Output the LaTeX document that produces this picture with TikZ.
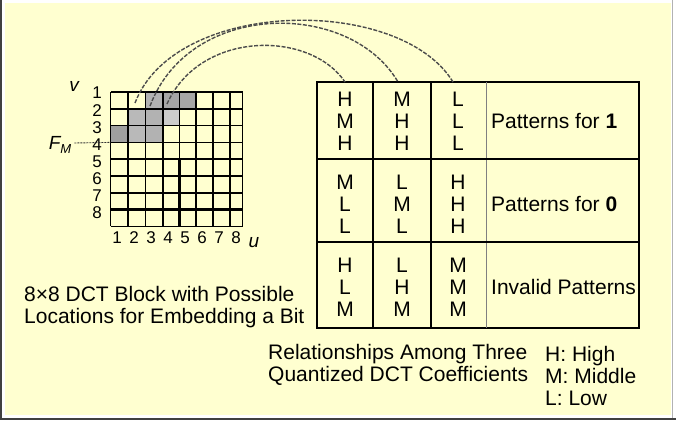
\documentclass[tikz,border=0pt]{standalone}
\usepackage{fontspec}
\setmainfont{Liberation Sans}
\usetikzlibrary{positioning}
\definecolor{paper}{RGB}{255,255,208}
\tikzset{
  txt/.style={font=\fontsize{21}{22}\selectfont, inner sep=0pt},
  pat/.style={txt, align=center},
  num/.style={font=\fontsize{17}{17}\selectfont, inner sep=0pt},
  link/.style={draw=black!70, line width=1.4pt, dash pattern=on 4pt off 1.5pt},
}
\begin{document}
\begin{tikzpicture}[x=1pt,y=-1pt]
            \fill[white] (0,0) rectangle (676,420);
            \useasboundingbox (0,0) rectangle (676,420);
            \fill[paper] (5,3) rectangle (671,415);
            \fill[black!75] (0,0) rectangle (2,420);
            \fill[black!75] (0,418) rectangle (676,420);
            \draw[black!30] (672.5,0) -- (672.5,418);
            % shaded coefficients
            \fill[gray!60] (145.5,92) rectangle (163,142.4);
            \fill[gray!55] (128,108.8) rectangle (145.5,142.4);
            \fill[gray!75] (110.5,125.6) rectangle (128,142.4);
            \fill[gray!70] (163,92) rectangle (196,108.8);
            \fill[gray!40] (163,108.8) rectangle (179.5,125.6);
            % 8x8 block
            \foreach \x in {110.5,128,145.5,163,179.5,196,213,230,242.5}
                \draw[line width=1.5pt] (\x,92) -- (\x,226.4);
            \foreach \y in {92,108.8,125.6,142.4}
                \draw[line width=1.5pt] (110.5,\y) -- (242.5,\y);
            \foreach \y in {159.2,176,192.8,209.6}
                \draw[line width=2.3pt] (110.5,\y) -- (242.5,\y);
            \draw[line width=1.5pt] (110.5,226.4) -- (242.5,226.4);
            \draw[line width=2.3pt] (179.5,159.2) -- (179.5,226.4);
            \foreach \i in {1,...,8} {
                \node[num] (r\i) at (97,{93+17.1*(\i-1)}) {\i};
                \node[num] (c\i) at ({117+17*(\i-1)},238) {\i};
            }
            \node[font=\fontsize{19}{19}\selectfont\itshape, inner sep=0pt] (v) at (74,86) {v};
            \node[font=\fontsize{19}{19}\selectfont\itshape, inner sep=0pt] (u) at (254,243) {u};
            \node[font=\fontsize{19}{19}\selectfont\itshape, inner sep=0pt] (fm) at (60,145) {F\raisebox{-0.45ex}{\fontsize{13}{13}\selectfont M}};
            \coordinate (fmend) at (110.5,142.4);
            \draw[black!80, line width=0.9pt, dash pattern=on 2pt off 1pt] (fm.east) ++(3,-2) -- (fmend);
            % table
            \draw[line width=2pt] (317,82) rectangle (639,328);
            \draw[line width=1.5pt] (373,82) -- (373,328);
            \draw[line width=2.2pt] (431,82) -- (431,328);
            \draw[black!50, line width=1pt] (486,82) -- (486,328);
            \draw[line width=2pt] (317,159) -- (639,159);
            \draw[line width=2pt] (317,242) -- (639,242);
            \node[pat] (p11) at (345,121) {H\\M\\H};
            \node[pat] (p12) at (402,121) {M\\H\\H};
            \node[pat] (p13) at (458,121) {L\\L\\L};
            \node[pat] (p21) at (345,204) {M\\L\\L};
            \node[pat] (p22) at (402,204) {L\\M\\L};
            \node[pat] (p23) at (458,204) {H\\H\\H};
            \node[pat] (p31) at (345,287) {H\\L\\M};
            \node[pat] (p32) at (402,287) {L\\H\\M};
            \node[pat] (p33) at (458,287) {M\\M\\M};
            \node[txt, anchor=west] (one) at (491,121) {Patterns for \textbf{1}};
            \node[txt, anchor=west] (zero) at (491,204) {Patterns for \textbf{0}};
            \node[txt, anchor=west] (bad) at (491,287) {Invalid Patterns};
            % links from block to table
            \coordinate (s1) at (167,104);
            \coordinate (s2) at (150,106);
            \coordinate (s3) at (135,103);
            \coordinate (t1) at (345,82);
            \coordinate (t2) at (398,82);
            \coordinate (t3) at (453,82);
            \draw[link] (s1) .. controls +(33,-74) and +(-35,-52) .. (t1);
            \draw[link] (s2) .. controls +(40,-106) and +(-48,-82) .. (t2);
            \draw[link] (s3) .. controls +(40,-105) and +(-53,-87) .. (t3);
            % captions
            \node[txt, align=left, anchor=west] (cap1) at (24,307) {8×8 DCT Block with Possible\\Locations for Embedding a Bit};
            \node[txt, align=left, anchor=west] (cap2) at (268,364.5) {Relationships Among Three\\Quantized DCT Coefficients};
            \node[txt, align=left, anchor=west] (key) at (545,376) {H: High\\M: Middle\\L: Low};
        \end{tikzpicture}
\end{document}
